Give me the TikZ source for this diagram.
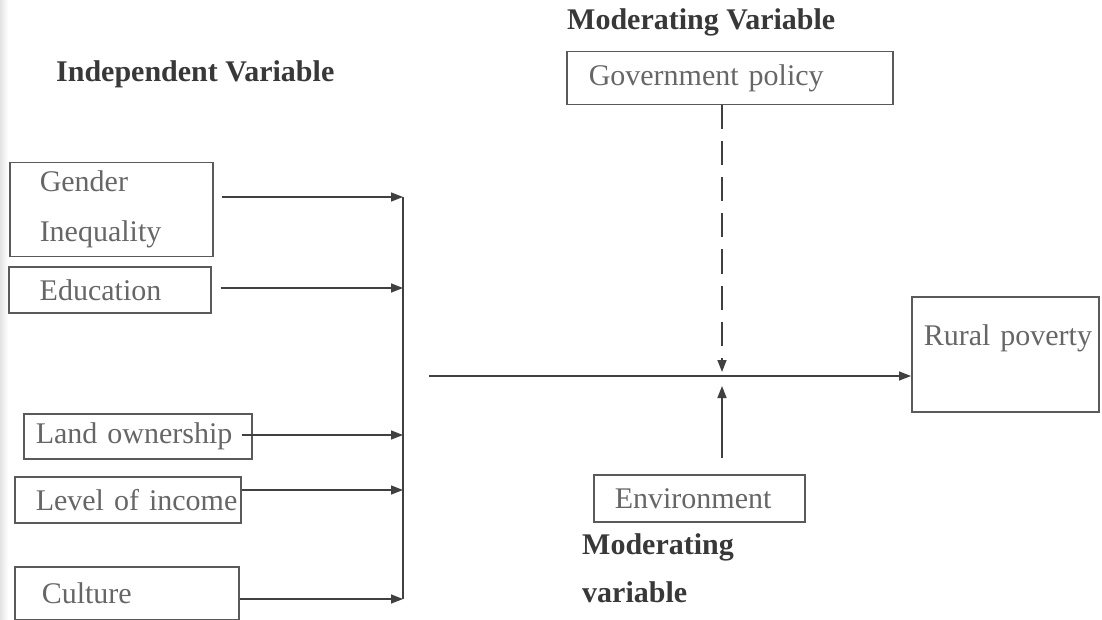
\documentclass[tikz,border=0pt]{standalone}
\usepackage{fontspec}
\setmainfont{Liberation Serif}
\usetikzlibrary{arrows.meta,calc}
\definecolor{boxline}{HTML}{5A5A5A}
\definecolor{boxtext}{HTML}{666666}
\definecolor{labtext}{HTML}{383838}
\definecolor{connc}{HTML}{404040}
\setlength{\parindent}{0pt}
\begin{document}
\begin{tikzpicture}[x=1pt,y=-1pt,
  vbox/.style={draw=boxline, line width=1.5pt, anchor=north west, inner xsep=0pt, inner ysep=0pt,
    align=left, text=boxtext, font=\fontsize{30}{50}\selectfont},
  lab/.style={anchor=base west, inner sep=0pt, text=labtext, font=\fontsize{30}{50}\selectfont\bfseries},
  conn/.style={draw=connc, line width=1.5pt, -{Triangle[length=12pt,width=9pt]}},
  busline/.style={draw=connc, line width=1.5pt}]
\useasboundingbox (0,0) rectangle (1102,620);
\shade[left color=gray!22, right color=white] (0,0) rectangle (8,620);

% independent variables
\node[vbox, text width=203pt, minimum height=94pt] (gi) at (9,162) {\hspace*{30pt}Gender\\\hspace*{30pt}Inequality};
\node[vbox, text width=202pt, minimum height=46pt] (ed) at (8,266) {\hspace*{31pt}Education};
\node[vbox, text width=228pt, minimum height=45pt] (lo) at (23,413) {\hspace*{12pt}Land ownership};
\node[vbox, text width=226pt, minimum height=46pt] (li) at (14,476) {\hspace*{21pt}Level of income};
\node[vbox, text width=224pt, minimum height=53pt] (cu) at (14,566) {\hspace*{27pt}Culture};

% moderating and dependent
\node[vbox, text width=326pt, minimum height=53pt] (gp) at (566,51) {\hspace*{22pt}Government policy};
\node[vbox, text width=211pt, minimum height=47pt] (en) at (593,474) {\hspace*{21pt}Environment};
\node[vbox, text width=187pt, minimum height=115pt] (rp) at (911,296) {\hspace*{12pt}Rural poverty\\[-12pt]\mbox{}};

% labels
\node[lab] (iv) at (56,82) {Independent Variable};
\node[lab] (mv) at (567,30) {Moderating Variable};
\node[lab] (mv2) at (582,554) {Moderating};
\node[lab] (mv3) at (582,602) {variable};

% bus
\coordinate (b1) at (403,197);
\coordinate (b2) at (403,288);
\coordinate (b3) at (403,435);
\coordinate (b4) at (403,490);
\coordinate (b5) at (403,599);
\draw[busline] (b1) -- (b5);
\draw[conn] ($(gi.east |- b1)+(8,0)$) -- (b1);
\draw[conn] ($(ed.east |- b2)+(9,0)$) -- (b2);
\draw[conn] ($(lo.east |- b3)+(-11,0)$) -- (b3);
\draw[conn] (li.east |- b4) -- (b4);
\draw[conn] (cu.east |- b5) -- (b5);

% main flow
\coordinate (ms) at (429,376);
\coordinate (mx) at (722,376);
\draw[conn] (ms) -- (ms -| rp.west);
\draw[conn, dash pattern=on 24pt off 12pt] (gp.south -| mx) -- ($(mx)+(0,-4)$);
\draw[conn] ($(en.north -| mx)+(0,-16)$) -- ($(mx)+(0,10)$);
\end{tikzpicture}
\end{document}
